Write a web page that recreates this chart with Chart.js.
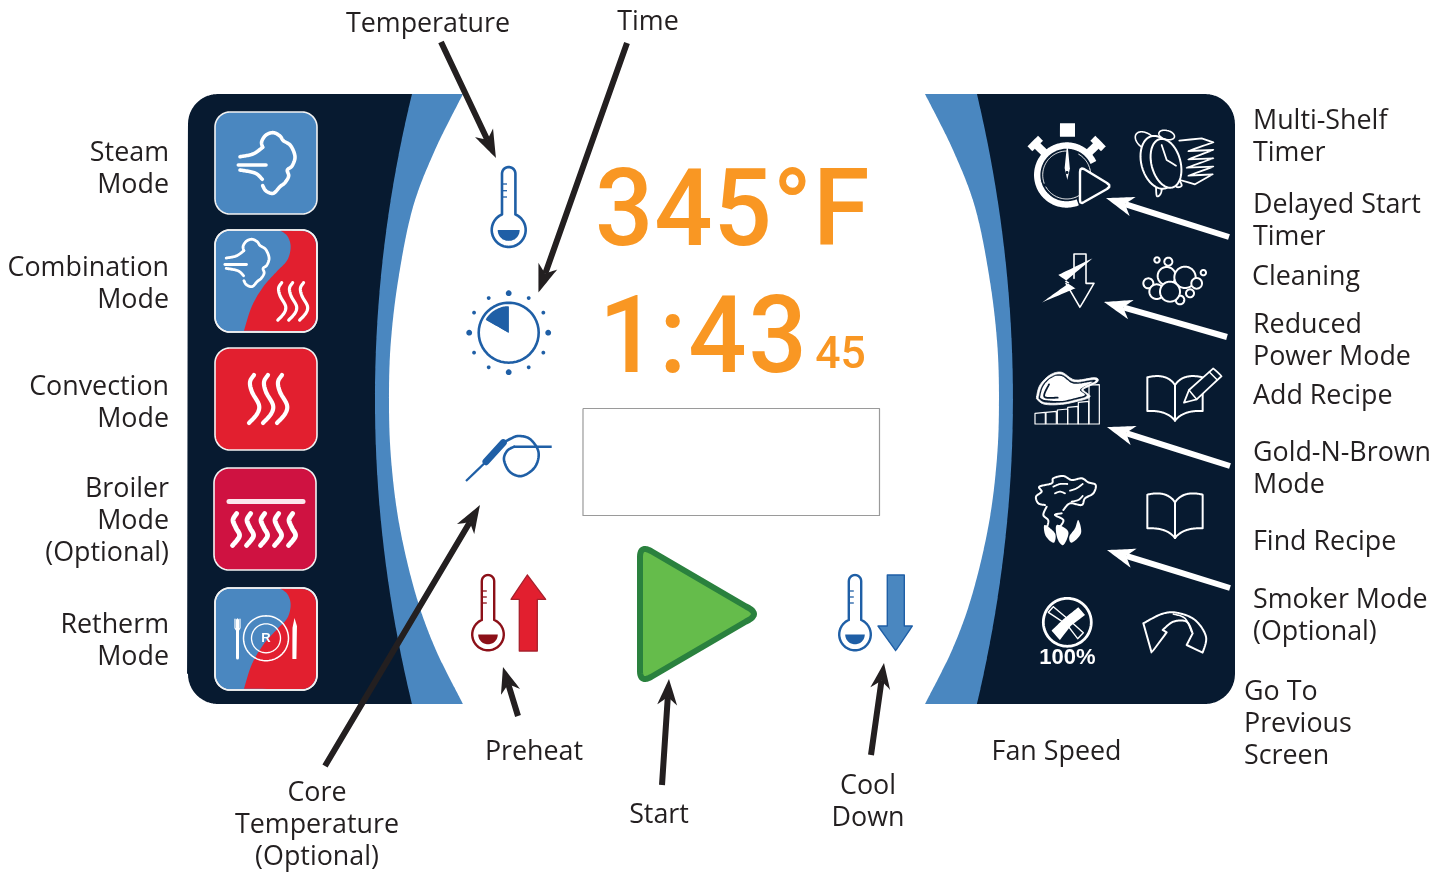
<!DOCTYPE html>
<html><head><meta charset="utf-8">
<style>html,body{margin:0;padding:0;background:#fff}canvas{display:block}</style>
<script src="https://cdn.jsdelivr.net/npm/chart.js@4"></script>
</head><body><canvas id="c" width="1450" height="874" style="width:1450px;height:874px"></canvas>
<script>
// ---- text ----
const leftLabels = ["Steam","Mode","Combination","Mode","Convection","Mode","Broiler","Mode","(Optional)","Retherm","Mode"];
const leftY = [153.5,185.5,268.5,300.5,387.5,419.5,489.5,521.5,553.5,625.5,657.5];
const rightLabels = ["Multi-Shelf","Timer","Delayed Start","Timer","Cleaning","Reduced","Power Mode","Add Recipe","Gold-N-Brown","Mode","Find Recipe","Smoker Mode","(Optional)","Go To","Previous","Screen"];
const rightX = [1253,1253,1253,1253,1252,1253,1253,1253,1253,1253,1253,1253,1253,1244,1244,1244];
const rightY = [121.5,153.5,205.5,237.5,277.5,325.5,357.5,396.5,453.5,485.5,542.5,600.5,632.5,692.5,724.5,756.5];
const centerLabels = ["Temperature","Time","Preheat","Start","Cool","Down","Fan Speed","Core","Temperature","(Optional)"];
const centerX = [428,648,534,659,868,868,1056.5,317,317,317];
const centerY = [24.5,22.5,752.5,815.5,786.5,818.5,752.5,793.5,825.5,857.5];
const displayTemp = "345°F", displayTime = "1:43", displaySeconds = "45";

// ---- colours ----
const NAVY="#071a30", BLUE="#4a87c0", DEEP="#1f5fa6", RED="#e21f2f", CRIM="#cf1241", WHITE="#ffffff", INK="#231f20", ORANGE="#f99723", DARKRED="#8c1018";

// ---- geometry helpers ----
const ds=[];
function add(p,o={}){
  // the tiny tension keeps Chart.js on its exact path routine rather than the pixel-merging one
  ds.push({data:p.map(([x,y])=>({x,y})),showLine:true,pointRadius:0,pointHoverRadius:0,
    borderColor:o.stroke||"rgba(0,0,0,0)",borderWidth:o.width||0,
    backgroundColor:o.fill||"rgba(0,0,0,0)",fill:o.fill?"shape":false,
    tension:1e-4,capBezierPoints:false,borderCapStyle:o.cap||"round",borderJoinStyle:"round"});
}
const D=Math.PI/180;
function arc(cx,cy,r,a0,a1,n=40,ry=r,rot=0){const o=[];for(let i=0;i<=n;i++){const a=(a0+(a1-a0)*i/n)*D;
  const x=r*Math.cos(a),y=ry*Math.sin(a);o.push([cx+x*Math.cos(rot*D)-y*Math.sin(rot*D),cy+x*Math.sin(rot*D)+y*Math.cos(rot*D)]);}return o;}
const circle=(cx,cy,r,o)=>add(arc(cx,cy,r,0,360,48),o);
const ellipse=(cx,cy,rx,ry,rot,o)=>add(arc(cx,cy,rx,0,360,48,ry,rot),o);
function rrect(x0,y0,x1,y1,r){return [...arc(x0+r,y0+r,r,180,270,12),...arc(x1-r,y0+r,r,270,360,12),...arc(x1-r,y1-r,r,0,90,12),...arc(x0+r,y1-r,r,90,180,12),[x0,y0+r]];}
function quad(a,c,b,n=24){const o=[];for(let i=0;i<=n;i++){const t=i/n,u=1-t;o.push([u*u*a[0]+2*u*t*c[0]+t*t*b[0],u*u*a[1]+2*u*t*c[1]+t*t*b[1]]);}return o;}
function smooth(p,closed=false,n=8){const o=[],N=p.length,g=i=>closed?p[(i+N)%N]:p[Math.max(0,Math.min(N-1,i))],last=closed?N:N-1;
  for(let i=0;i<last;i++){const a=g(i-1),b=g(i),c=g(i+1),d=g(i+2);for(let k=0;k<n;k++){const t=k/n,t2=t*t,t3=t2*t;
    o.push([0,1].map(j=>.5*(2*b[j]+(c[j]-a[j])*t+(2*a[j]-5*b[j]+4*c[j]-d[j])*t2+(3*b[j]-a[j]-3*c[j]+d[j])*t3)));}}
  o.push(closed?p[0]:p[N-1]);return o;}
function arrow(t,h,color,lw,len,hw,notch){
  const dx=h[0]-t[0],dy=h[1]-t[1],L=Math.hypot(dx,dy),ux=dx/L,uy=dy/L,nx=-uy,ny=ux;
  const n=[h[0]-ux*notch,h[1]-uy*notch];
  add([t,n],{stroke:color,width:lw,cap:"butt"});
  const b=[h[0]-ux*len,h[1]-uy*len];
  add([h,[b[0]+nx*hw,b[1]+ny*hw],n,[b[0]-nx*hw,b[1]-ny*hw],h],{fill:color});
}
const tf=(p,s,ax,ay,bx,by)=>p.map(([x,y])=>[bx+(x-ax)*s,by+(y-ay)*s]);
const Zf=(ox,oy)=>a=>a.map(([x,y])=>[ox+x/3,oy+y/3]);
const Z1=Zf(180,90),Z4=Zf(1010,110),Z5=Zf(1010,350),ZC=Zf(1025,365),ZK=Zf(1130,125),ZB=Zf(1135,250);

// ---- panel ----
add(rrect(188,94,1235,704,30),{fill:NAVY});
const lBlue=quad([412,94],[338,399],[412,704],40), rBlue=quad([977,94],[1049,399],[977,704],40);
add([...lBlue,...[...rBlue].reverse(),[412,94]],{fill:BLUE});
const whiteEdge=[[463,94],[435,150],[413,207],[399,275],[391,340],[389,399],[391,458],[399,523],[415,592],[435,648],[463,704]];
const lW=smooth(whiteEdge), rW=lW.map(([x,y])=>[1388-x,y]);
add([...lW,...[...rW].reverse(),[463,94]],{fill:WHITE});

// ---- mode buttons ----
const cloudPts=Z1([[248,172],[245,155],[258,135],[280,128],[300,138],[310,152],[332,167],[345,200],[336,228],[322,240],[326,258],[315,278],[300,290],[280,310],[258,303],[248,287]]);
const flowA=[[240,156.7],[253,154],[262.7,147.3]], flowB=[[238.3,165],[266,165]], flowC=[[240,170],[255,173],[262.3,179.3]];
function steam(s,bx,by,w){[smooth(cloudPts),smooth(flowA),flowB,smooth(flowC)].forEach(p=>add(tf(p,s,272.7,132.7,bx,by),{stroke:WHITE,width:w}));}
const wave=smooth([[254,375],[250,382],[252,392],[259,405],[257,414],[249,423]]);
function waves(s,bx,by,w){[0,1,2].forEach(i=>add(tf(wave,s,254,375,bx+i*14*s,by),{stroke:WHITE,width:w}));}
function button(y0,y1,c,x0=215,x1=317){add(rrect(x0,y0,x1,y1,15),{fill:c,stroke:"#f2f2f2",width:1.6});}
const splitEdge=smooth(Z1([[300,421],[322,438],[332,470],[322,510],[290,545],[250,590],[215,650],[192,722]]));
function split(dy){
  add([...splitEdge.map(([x,y])=>[x,y+dy]),...arc(302,317+dy,14,90,0,8),...arc(302,245+dy,14,0,-90,8),splitEdge[0].map((v,i)=>i?v+dy:v)],{fill:RED});
}
button(112,214,BLUE); steam(1,272.7,132.7,3.6);
button(230,332,BLUE); split(0); add(rrect(215,230,317,332,15),{stroke:"#f2f2f2",width:1.6});
steam(.78,251.7,239.3,2.8); waves(.78,281.7,282.7,3.2);
button(348,450,RED); waves(1,254,375,4.2);
button(468,570,CRIM,214,316);
add([[229,501.5],[303,501.5]],{stroke:"#fbe7ec",width:5});
const bWave=smooth([[236.7,513.5],[233,520],[236,528],[239.5,536],[232.5,545.5]]);
[0,1,2,3,4].forEach(i=>add(tf(bWave,1,236.7,513.5,236.7+i*14,513.5),{stroke:WHITE,width:4.8}));
button(588,690,BLUE); split(358); add(rrect(215,588,317,690,15),{stroke:"#f2f2f2",width:1.6});
circle(266,638.3,22.5,{stroke:WHITE,width:1.5}); circle(266,638.3,14.5,{stroke:WHITE,width:1.3});
add([[237.5,620],[237.5,658]],{stroke:WHITE,width:3});
add([[235,619],[235,628],[237.5,632],[240,628],[240,619]],{stroke:WHITE,width:1.2});
add([[237.5,619],[237.5,632]],{stroke:WHITE,width:1.2});
add([[294.5,618],[297,626],[296.5,659],[292.5,659],[292.5,628],[294.5,618]],{fill:WHITE});

// ---- blue display icons ----
function therm(cx,top,by,r,hw,c,fc,yT,ts){
  const a=Math.asin(hw/r)/D;
  add([[cx-hw,by-r*Math.cos(a*D)],[cx-hw,top+hw],...arc(cx,top+hw,hw,180,360,14),[cx+hw,by-r*Math.cos(a*D)],...arc(cx,by,r,-90+a,270-a,36)],{stroke:c,width:ts});
  yT.forEach(y=>add([[cx-hw+1,y],[cx-hw+5,y]],{stroke:c,width:1.3,cap:"butt"}));
  const f=r-6; add([[cx-f,by],[cx+f,by],...arc(cx,by,f,0,180,20).slice(1)],{fill:fc});
}
therm(508.7,167,230,17,6.7,DEEP,DEEP,[184,190.7,197],2.6);
therm(488,575,634.5,15.8,6.2,DARKRED,DARKRED,[591,597,603],2.4);
therm(855,575,634.5,15.8,6.2,DEEP,DEEP,[591,597,603],2.4);
circle(508.7,332.7,30,{stroke:DEEP,width:2.6});
add([[508.7,332.7],[508.7,306.7],[486,320],[508.7,332.7]],{fill:DEEP});
add([[508.7,332.7],...arc(508.7,332.7,26.5,-150,-90,10),[508.7,332.7]],{fill:DEEP});
const dialAngles=[0,30,60,90,120,150,180,210,240,270,300,330];
dialAngles.forEach(a=>{const big=a%90===0;const r=big?2.9:1.9;const cx=508.7+(big?39.5:40)*Math.cos(a*D),cy=332.7+(big?39.5:40)*Math.sin(a*D);circle(cx,cy,r,{fill:DEEP});});
// probe
add([[466,481],[486,461.7]],{stroke:DEEP,width:2.2,cap:"butt"});
add([[486,461.7],[503.3,442.7]],{stroke:DEEP,width:7,cap:"round"});
add(smooth([[503,443],[510,439],[518.3,436],[530,439],[538.5,452],[535,467],[522,476],[510,472],[504,460],[507,451],[514,446.7]]),{stroke:DEEP,width:2.6});
add([[514,446.7],[551.7,446.7]],{stroke:DEEP,width:2.6,cap:"butt"});

// display box
add([[583,408.5],[879.5,408.5],[879.5,515.5],[583,515.5],[583,408.5]],{stroke:"#9a9a9a",width:1.2,cap:"butt"});

// preheat / start / cool arrows
add([[527.3,575],[545.7,599.3],[537.3,599.3],[537.3,651],[519.3,651],[519.3,599.3],[511,599.3],[527.3,575]],{fill:RED,stroke:"#a8202c",width:1.3});
add([[887.3,575],[904.3,575],[904.3,626],[912.3,626],[895.7,650.7],[878,626],[887.3,626],[887.3,575]],{fill:BLUE,stroke:DEEP,width:1.4});
// play: rounded triangle
add([...quad([640,557],[640,545],[651,551],10),...quad([746,606.5],[762,614],[746,621.5],10),...quad([651,677],[640,683],[640,671],10),[640,557]],{fill:"#65bc4b",stroke:"#2a813e",width:6});

// ---- right icons ----
// stopwatch
const SW=[1066.7,175];
function knob(a){const c=Math.cos(a*D),s=Math.sin(a*D),P=(r,w)=>[SW[0]+r*c-w*s,SW[1]+r*s+w*c];
  add([P(28,-4),P(41,-4),P(41,-7.5),P(48,-7.5),P(48,7.5),P(41,7.5),P(41,4),P(28,4),P(28,-4)],{fill:WHITE});}
knob(-135);knob(-45);
add(arc(SW[0],SW[1],29.5,68,335,60),{stroke:WHITE,width:6.4,cap:"butt"});
add(arc(SW[0],SW[1],24,-60,150,30),{stroke:WHITE,width:1});
add(arc(SW[0],SW[1],24,160,270,20),{stroke:WHITE,width:1});
add(Z4([[150,40],[195,40],[195,80],[150,80],[150,40]]),{fill:WHITE});
add(Z4([[172,95],[180,175],[172,210],[164,175],[172,95]]),{fill:WHITE});
circle(1067,172.5,1.5,{fill:NAVY});
add([...quad([1080,172],[1080,167],[1084,169],3),...quad([1107,183],[1112,186],[1107,189],3),...quad([1084,202],[1080,205],[1080,200],3),[1080,172]],{fill:NAVY,stroke:WHITE,width:2.4});
// alarm clock with sheets
add(ZK([[148,47],[215,40],[250,52],[175,78],[250,75],[175,103],[250,100],[170,128],[250,125],[175,152],[248,148],[195,178],[150,165]]),{stroke:WHITE,width:1.8});
ellipse(ZK([[48,48]])[0][0],ZK([[48,48]])[0][1],12,7.5,35,{fill:NAVY,stroke:WHITE,width:1.6});
ellipse(ZK([[110,30]])[0][0],ZK([[110,30]])[0][1],8,4.5,15,{fill:NAVY,stroke:WHITE,width:1.6});
add(smooth(ZK([[78,170],[80,212],[92,206],[98,178]])),{stroke:WHITE,width:1.8});
add(smooth(ZK([[132,170],[140,186],[155,182],[148,165]])),{stroke:WHITE,width:1.8});
ellipse(ZK([[85,112]])[0][0],ZK([[85,112]])[0][1],17,27,-15,{fill:NAVY,stroke:WHITE,width:2});
ellipse(ZK([[108,115]])[0][0],ZK([[108,115]])[0][1],14.5,25,-15,{fill:NAVY,stroke:WHITE,width:2});
add(ZK([[95,60],[110,105],[138,122]]),{stroke:WHITE,width:1.8});
// reduced power
add(Z4([[192,505],[192,432],[228,432],[228,520],[252,520],[210,592],[168,520]]),{stroke:WHITE,width:1.6});
add(Z4([[248,445],[145,495],[178,518],[95,578],[197,535],[165,515],[248,445]]),{fill:WHITE});
// bubbles
[[66,30,8],[100,35,12],[205,68,8],[95,78,27],[150,82,32],[185,100,16],[40,100,15],[165,130,12],[65,125,22],[135,150,13],[105,125,30]].forEach(([x,y,r])=>{const p=ZB([[x,y]])[0];circle(p[0],p[1],r/3,{fill:NAVY,stroke:WHITE,width:2});});
// chicken + bars
const chickenOut=[[35,95],[45,60],[75,30],[110,22],[150,45],[210,38],[218,50],[190,65],[175,75],[195,95],[160,108],[110,118],[60,118],[38,105]];
add(smooth(ZC(chickenOut),true,6),{fill:WHITE,stroke:WHITE,width:1});
add(smooth(ZC([[42,95],[52,62],[78,36],[110,29],[148,52],[205,45],[208,50],[185,60],[168,75],[185,92],[158,102],[110,112],[62,112],[44,103]]),true,6),{fill:NAVY,stroke:NAVY,width:.4});
add(smooth(ZC([[46,92],[56,62],[80,38],[110,33],[146,56],[202,50],[183,62],[165,75],[180,90],[155,98],[110,108],[64,106],[48,100]]),true,6),{fill:WHITE});
add(smooth(ZC([[72,58],[58,95],[98,98]])),{stroke:NAVY,width:1.8});
[[30,145],[63,142],[97,135],[128,127],[160,112],[192,60]].forEach(([x,y],i,a)=>add(ZC([[x,177],[x,y],[x+31,i==5?y-1:y-3],[x+31,177],[x,177]]),{stroke:WHITE,width:1.2}));
// books
function book(dy){
  const T=([x,y])=>[x,y+dy];
  add(Z5([...quad([412,82],[470,68],[495,105]),...quad([495,105],[520,68],[578,82]),[578,183],...quad([578,183],[520,180],[495,212]),...quad([495,212],[470,180],[412,183]),[412,82]].map(T)),{fill:NAVY,stroke:WHITE,width:2});
  add(Z5([[495,105],[495,212]].map(T)),{stroke:WHITE,width:2});}
book(0); book(352);
add(Z5([[522,158],[537,120],[610,55],[635,78],[560,148],[522,158]]),{fill:NAVY,stroke:WHITE,width:1.8});
add(Z5([[537,120],[560,148]]),{stroke:WHITE,width:1.5});
add(Z5([[598,66],[622,90]]),{stroke:WHITE,width:1.5});
// smoke
add(smooth(Z5([[105,465],[85,460],[78,440],[95,425],[88,410],[125,400],[130,385],[160,378],[185,390],[215,385],[235,397],[257,405],[250,430],[225,445],[215,465],[180,460],[160,480]])),{stroke:WHITE,width:2});
add(smooth(Z5([[110,470],[100,495],[115,512],[108,540]])),{stroke:WHITE,width:2});
add(smooth(Z5([[155,490],[135,495],[160,510],[150,530]])),{stroke:WHITE,width:2});
[[[130,410],[150,402],[172,402]],[[135,430],[150,425],[165,430]],[[180,422],[200,415],[218,402]],[[185,455],[205,450],[218,438]]].forEach(p=>add(smooth(Z5(p)),{stroke:WHITE,width:1.8}));
add(smooth(Z5([[105,525],[135,550],[132,578],[112,565],[103,545]]),true),{fill:WHITE});
add(smooth(Z5([[140,525],[175,545],[160,585],[142,565]]),true),{fill:WHITE});
add(smooth(Z5([[205,510],[213,550],[185,578],[178,560],[195,535]]),true),{fill:WHITE});
// fan
circle(1067.3,622.3,24,{stroke:WHITE,width:2.8});
add(Z5([[130,770],[115,787],[172,825],[203,866],[220,848],[180,812],[130,770]]),{stroke:WHITE,width:1.4});
add(Z5([[205,772],[225,795],[182,828],[150,870],[125,842],[160,808],[205,772]]),{fill:WHITE});
// return
add(Z5([...smooth([[400,820],[455,792],[500,788],[555,810],[588,860],[578,908]]),[530,885],...smooth([[548,850],[530,815],[490,815],[458,840]]),[470,847],[425,908],[400,820]]),{stroke:WHITE,width:2});
add(smooth(Z5([[490,792],[525,805],[545,845]])),{stroke:WHITE,width:1.6});

// ---- pointer arrows ----
arrow([441,42],[496,158],INK,6,28,10,20);
arrow([627,43],[538.5,292.5],INK,6,28,10,20);
arrow([325,766],[480,505],INK,6,28,10,20);
arrow([518,716],[503,667],INK,6,26,10,18);
arrow([662,785],[669,679],INK,6,26,10,18);
arrow([871,755],[884,663],INK,6,26,10,18);
arrow([1229,237],[1106,198],WHITE,6,28,10,20);
arrow([1227,337],[1104,302],WHITE,6,28,10,20);
arrow([1230,466],[1107,427],WHITE,6,28,10,20);
arrow([1230,588],[1107,550],WHITE,6,28,10,20);

// draw later-listed marks on top
ds.forEach((d,i)=>d.order=-i);

const textPlugin={id:"texts",afterDatasetsDraw(chart){
  const {ctx,scales:{x,y}}=chart;
  const put=(s,px,py,font,color,align)=>{ctx.font=font;ctx.fillStyle=color;ctx.textAlign=align;ctx.textBaseline="middle";ctx.fillText(s,x.getPixelForValue(px),y.getPixelForValue(py));};
  const wide=(s,px,py,font,sx,ls)=>{ctx.save();ctx.translate(x.getPixelForValue(px),y.getPixelForValue(py));ctx.scale(sx,1);
    ctx.font=font;ctx.letterSpacing=ls+"px";ctx.fillStyle=ORANGE;ctx.textAlign="left";ctx.textBaseline="middle";ctx.fillText(s,0,0);ctx.restore();};
  ctx.save();
  const F='26.85px "Open Sans"';
  leftLabels.forEach((s,i)=>put(s,169,leftY[i],F,"#231f20","right"));
  rightLabels.forEach((s,i)=>put(s,rightX[i],rightY[i],F,"#231f20","left"));
  centerLabels.forEach((s,i)=>put(s,centerX[i],centerY[i],F,"#231f20","center"));
  wide(displayTemp,595,218,'500 108px Roboto',.95,1);
  wide(displayTime,599,345,'500 108px Roboto',.95,2);
  put(displaySeconds,840.5,357,'500 44.5px Roboto',ORANGE,"center");
  put("R",266,638.5,'bold 13px "Liberation Sans"',WHITE,"center");
  put("100%",1067.5,658,'bold 22px "Liberation Sans"',WHITE,"center");
  ctx.restore();
}};

new Chart(document.getElementById("c"),{type:"scatter",data:{datasets:ds},plugins:[textPlugin],options:{
  responsive:false,animation:false,events:[],devicePixelRatio:1,layout:{padding:0},
  plugins:{legend:{display:false},tooltip:{enabled:false},title:{display:false}},
  scales:{x:{type:"linear",min:0,max:1450,display:false},y:{type:"linear",min:0,max:874,reverse:true,display:false}}
}});
</script></body></html>
